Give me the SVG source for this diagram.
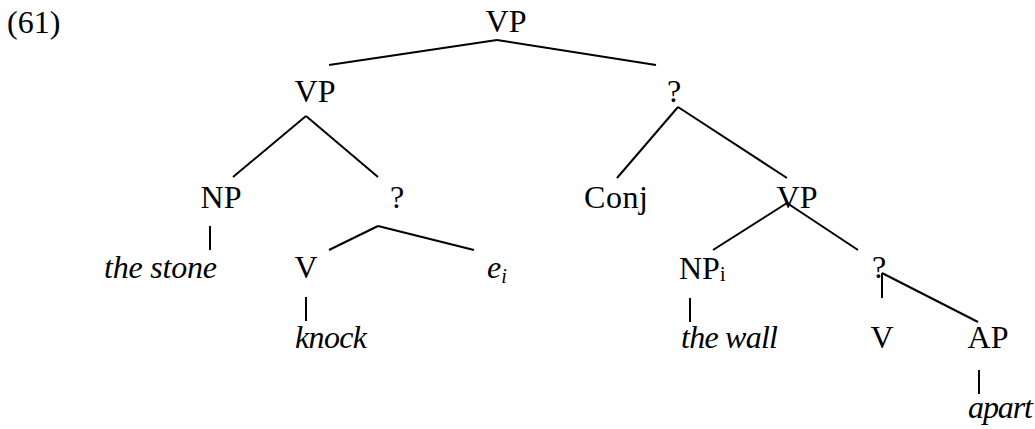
<svg xmlns="http://www.w3.org/2000/svg" width="1035" height="429" viewBox="0 0 1035 429">
<style>
text{font-family:"Liberation Serif","DejaVu Serif",serif;font-size:32px;fill:#000}
.it{font-style:italic}
.sub{font-size:20px}
.edges line{stroke:#000;stroke-width:2;stroke-linecap:butt}
</style>
<rect width="1035" height="429" fill="#fff"/>
<text id="label" x="7" y="33">(61)</text>
<g class="edges" id="connectors">
<line x1="497" y1="40" x2="329" y2="65"/>
<line x1="497" y1="40" x2="656" y2="65"/>
<line x1="306" y1="116" x2="233" y2="177"/>
<line x1="306" y1="116" x2="378" y2="177"/>
<line x1="678" y1="107" x2="617" y2="178"/>
<line x1="678" y1="107" x2="787" y2="178"/>
<line x1="210" y1="226" x2="210" y2="250"/>
<line x1="378" y1="226" x2="329" y2="250"/>
<line x1="378" y1="226" x2="474" y2="250"/>
<line x1="787" y1="203" x2="713" y2="250"/>
<line x1="787" y1="203" x2="858" y2="250"/>
<line x1="306" y1="297" x2="306" y2="321"/>
<line x1="690" y1="298" x2="690" y2="322"/>
<line x1="882" y1="273" x2="882" y2="298"/>
<line x1="882" y1="273" x2="978" y2="322"/>
<line x1="979" y1="370" x2="979" y2="394"/>
</g>
<g id="vp-top"><text x="506" y="32" text-anchor="middle">VP</text></g>
<g id="vp-left"><text x="315" y="102" text-anchor="middle">VP</text></g>
<g id="q-top"><text x="674" y="102" text-anchor="middle">?</text></g>
<g id="np"><text x="221" y="208" text-anchor="middle">NP</text></g>
<g id="q-left"><text x="397" y="208" text-anchor="middle">?</text></g>
<g id="conj"><text x="584" y="208" textLength="64">Conj</text></g>
<g id="vp-right"><text x="797" y="208" text-anchor="middle">VP</text></g>
<g id="the-stone"><text class="it" x="104" y="278" textLength="113">the stone</text></g>
<g id="v-left"><text x="306" y="278" text-anchor="middle">V</text></g>
<g id="e-i"><text class="it" x="487" y="278">e<tspan class="sub" dy="5">i</tspan></text></g>
<g id="np-i"><text x="679" y="279">NP<tspan class="sub" dy="2">i</tspan></text></g>
<g id="q-right"><text x="879" y="278" text-anchor="middle">?</text></g>
<g id="knock"><text class="it" x="295" y="348" textLength="72">knock</text></g>
<g id="the-wall"><text class="it" x="681" y="348" textLength="97">the wall</text></g>
<g id="v-right"><text x="882" y="348" text-anchor="middle">V</text></g>
<g id="ap"><text x="988" y="348" text-anchor="middle">AP</text></g>
<g id="apart"><text class="it" x="968" y="418" textLength="65">apart</text></g>
</svg>
